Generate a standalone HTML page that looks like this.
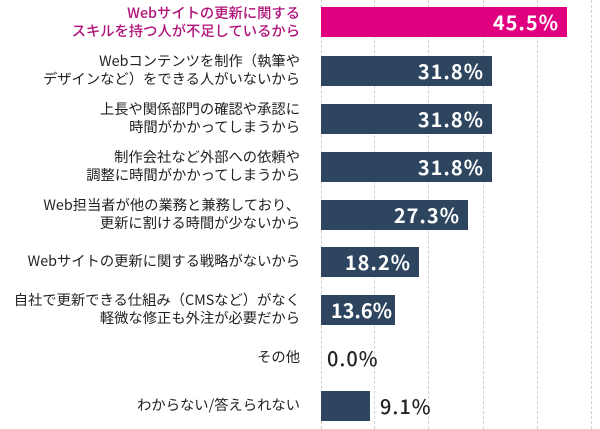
<!DOCTYPE html>
<html><head><meta charset="utf-8"><style>
body{margin:0;background:#fff;width:600px;height:429px;overflow:hidden;position:relative;font-family:"Noto Sans CJK JP",sans-serif}
.g{position:absolute;top:0;height:429px;border-left:1px dashed #d0d0d0}
.l{position:absolute;right:300px;width:300px;text-align:right;font-size:14.3px;line-height:18px;color:#222;white-space:nowrap}
.b,.v{font-family:"Noto Sans CJK JP",sans-serif;font-weight:bold;font-size:20px;line-height:30px;letter-spacing:1px}
.b{position:absolute;left:321px;height:30px;background:#2e4560;color:#fff;text-align:right;box-sizing:border-box;padding-right:8px}
.v{position:absolute;top:0;color:#222}
</style></head><body>
<div class="g" style="left:321px"></div><div class="g" style="left:374px"></div><div class="g" style="left:428px"></div><div class="g" style="left:483px"></div><div class="g" style="left:537px"></div><div class="g" style="left:591px"></div>

<div class="l" style="top:4px;color:#b0127a;font-weight:500">Webサイトの更新に関する<br>スキルを持つ人が不足しているから</div>
<div class="b" style="top:7px;width:246px;background:#e0007f">45.5%</div>

<div class="l" style="top:52px">Webコンテンツを制作（執筆や<br>デザインなど）をできる人がいないから</div>
<div class="b" style="top:56px;width:171px">31.8%</div>

<div class="l" style="top:100px">上長や関係部門の確認や承認に<br>時間がかかってしまうから</div>
<div class="b" style="top:104px;width:171px">31.8%</div>

<div class="l" style="top:148px">制作会社など外部への依頼や<br>調整に時間がかかってしまうから</div>
<div class="b" style="top:152px;width:171px">31.8%</div>

<div class="l" style="top:196px">Web担当者が他の業務と兼務しており、<br>更新に割ける時間が少ないから</div>
<div class="b" style="top:200px;width:147px">27.3%</div>

<div class="l" style="top:252px">Webサイトの更新に関する戦略がないから</div>
<div class="b" style="top:247px;width:98px">18.2%</div>

<div class="l" style="top:291px">自社で更新できる仕組み（CMSなど）がなく<br>軽微な修正も外注が必要だから</div>
<div class="b" style="top:295px;width:74px;padding-right:3px;letter-spacing:0">13.6%</div>

<div class="l" style="top:348px">その他</div>
<div class="v" style="left:327px;top:343px;font-weight:500">0.0%</div>

<div class="l" style="top:396px">わからない/答えられない</div>
<div class="b" style="top:391px;width:49px"></div>
<div class="v" style="left:380px;top:391px;font-weight:500">9.1%</div>
</body></html>
